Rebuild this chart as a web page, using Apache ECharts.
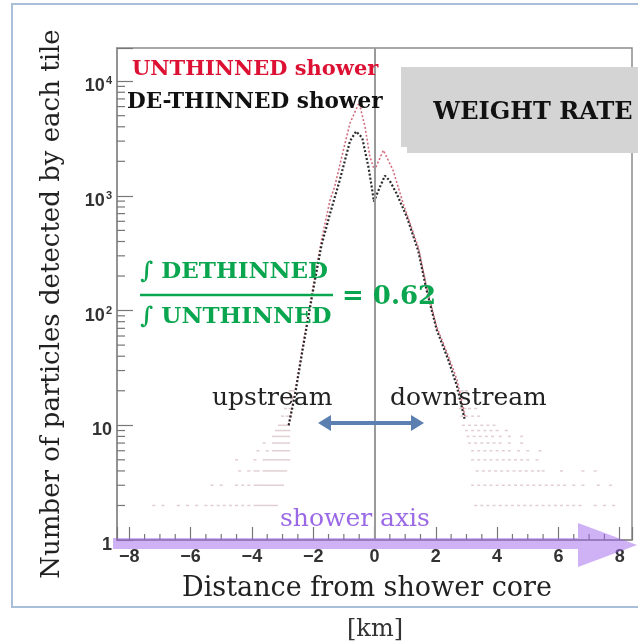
<!DOCTYPE html>
<html><head><meta charset="utf-8">
<script src="https://cdn.jsdelivr.net/npm/echarts@6/dist/echarts.min.js"></script>
<style>html,body{margin:0;padding:0;background:#fff}#c{width:638px;height:643px}</style>
</head><body><div id="c"></div>
<script>
// ---- data (distance from core in km, particle counts) ----
const xUnthinned = [-2.8, -2.6, -2.33, -1.95, -1.73, -1.45, -1.3, -1.0, -0.8, -0.5, -0.31, -0.15, 0.0, 0.29, 0.61, 0.94, 1.43, 1.7, 2.03, 2.41, 2.69, 2.95];
const yUnthinned = [10, 19, 51, 195, 410, 920, 1200, 2600, 4300, 6500, 4000, 2200, 1670, 2500, 1660, 850, 355, 160, 72, 40, 25, 12];
const xDethinned = [-2.8, -2.6, -2.33, -1.95, -1.73, -1.45, -1.13, -0.8, -0.6, -0.4, -0.2, -0.08, -0.02, 0.15, 0.34, 0.5, 0.72, 1.05, 1.43, 1.7, 2.03, 2.41, 2.69, 2.95];
const yDethinned = [10, 18, 48, 180, 370, 700, 1380, 3000, 3650, 3200, 1800, 1150, 890, 1150, 1500, 1350, 1050, 660, 330, 150, 68, 37, 22, 11];
const tileCounts = [2, 3, 4, 5, 6, 7, 8, 9, 10, 12, 14, 17, 20];
const upstreamTileX = [
  [-7.2, -6.9, -6.4, -6.1, -5.8, -5.5, -5.3, -5.1, -4.9, -4.7, -4.5, -4.3, -4.1, -3.9, -3.8, -3.7, -3.6, -3.5, -3.4, -3.3, -3.2],
  [-5.3, -5.0, -4.5, -4.3, -4.1, -3.9, -3.8, -3.7, -3.6, -3.5, -3.4, -3.3, -3.2, -3.1, -3.0],
  [-4.4, -4.1, -3.9, -3.8, -3.6, -3.5, -3.4, -3.3, -3.2, -3.1, -3.0, -2.9],
  [-4.5, -3.9, -3.6, -3.5, -3.4, -3.3, -3.2, -3.1, -3.0, -2.9, -2.8],
  [-3.8, -3.5, -3.3, -3.2, -3.1, -3.0, -2.9, -2.8],
  [-3.6, -3.3, -3.2, -3.1, -3.0, -2.9, -2.8],
  [-3.3, -3.2, -3.1, -3.0, -2.9, -2.8],
  [-3.2, -3.1, -3.0, -2.9, -2.8],
  [-3.1, -3.0, -2.9, -2.8],
  [-3.0, -2.85, -2.75],
  [-2.9, -2.75],
  [-2.85, -2.7],
  [-2.75, -2.65]
];
const downstreamTileX = [
  [3.3, 3.5, 3.7, 3.9, 4.1, 4.3, 4.5, 4.7, 4.9, 5.1, 5.3, 5.5, 5.7, 5.9, 6.1, 6.3, 6.5, 6.7, 7.2, 7.5, 7.8],
  [3.2, 3.4, 3.6, 3.8, 4.0, 4.2, 4.4, 4.6, 4.8, 5.0, 5.2, 5.4, 5.6, 5.8, 6.0, 6.2, 6.5, 6.8, 7.3, 7.7],
  [3.35, 3.55, 3.75, 3.95, 4.15, 4.35, 4.55, 4.75, 4.95, 5.15, 5.35, 5.5, 6.1, 6.8, 7.2],
  [3.2, 3.4, 3.6, 3.8, 4.0, 4.2, 4.4, 4.6, 4.8, 5.0, 5.3],
  [3.2, 3.4, 3.6, 3.8, 4.0, 4.2, 4.4, 4.7, 5.0, 5.4],
  [3.1, 3.3, 3.5, 3.7, 3.9, 4.1, 4.4, 4.8],
  [3.05, 3.25, 3.45, 3.65, 3.85, 4.1, 4.4, 4.8],
  [3.0, 3.2, 3.4, 3.6, 3.8, 4.0, 4.3],
  [2.9, 3.1, 3.3, 3.5, 3.7, 3.9],
  [2.85, 3.0, 3.2, 3.4],
  [2.8, 2.95, 3.1, 3.3],
  [2.75, 2.9, 3.05],
  [2.7, 2.85, 3.0]
];
const xMinorTicks = [-7.5, -7, -6.5, -5.5, -5, -4.5, -3.5, -3, -2.5, -1.5, -1, -0.5, 0.5, 1, 1.5, 2.5, 3, 3.5, 4.5, 5, 5.5, 6.5, 7, 7.5];
const yMinorTicks = [2, 3, 4, 5, 6, 7, 8, 9, 20, 30, 40, 50, 60, 70, 80, 90, 200, 300, 400, 500, 600, 700, 800, 900, 2000, 3000, 4000, 5000, 6000, 7000, 8000, 9000];
const X_MIN = -8.4, X_MAX = 8.4, Y_MIN = 1, Y_MAX = 19450;

// ---- build ----
const tilePoints = [];
tileCounts.forEach((n, i) => {
  upstreamTileX[i].forEach(x => tilePoints.push([x, n]));
  downstreamTileX[i].forEach(x => tilePoints.push([x, n]));
});
const unthinned = xUnthinned.map((x, i) => [x, yUnthinned[i]]);
const dethinned = xDethinned.map((x, i) => [x, yDethinned[i]]);

const SERIF = 'DejaVu Serif';
const GREEN = '#0aa64f';
const chart = echarts.init(document.getElementById('c'), null, {renderer: 'canvas'});
const txt = (text, x, y, font, fill, align, extra) => Object.assign({
  type: 'text', x: x, y: y, silent: true, z: 20,
  style: {text: text, font: font, fill: fill, align: align || 'left', verticalAlign: 'middle'}
}, extra || {});

chart.setOption({
  animation: false,
  backgroundColor: '#fff',
  grid: {left: 117, right: 6, top: 48, bottom: 103, show: true, borderColor: '#8c8c8c', borderWidth: 1.5, backgroundColor: 'transparent'},
  xAxis: {
    type: 'value', min: X_MIN, max: X_MAX, splitNumber: 8,
    axisLine: {show: true, onZero: false, lineStyle: {color: '#8c8c8c', width: 1.5}},
    axisTick: {show: true, inside: true, length: 13, lineStyle: {color: '#777', width: 1.2}},
    splitLine: {show: false},
    axisLabel: {
      margin: 8, fontFamily: 'Liberation Sans', fontWeight: 'bold', fontSize: 18, color: '#333',
      formatter: v => (Math.abs(v - Math.round(v)) > 1e-6 || Math.round(v) % 2 !== 0) ? '' : (v < 0 ? '\u2212' + (-v) : String(v))
    },
    name: 'Distance from shower core', nameLocation: 'middle', nameGap: 35,
    nameTextStyle: {fontFamily: SERIF, fontSize: 27, color: '#222', padding: [0, 15, 0, 0]}
  },
  yAxis: {
    type: 'log', logBase: 10, min: Y_MIN, max: Y_MAX,
    axisLine: {show: true, onZero: false, lineStyle: {color: '#8c8c8c', width: 1.5}},
    axisTick: {show: true, inside: true, length: 16, lineStyle: {color: '#777', width: 1.2}},
    splitLine: {show: false},
    axisLabel: {
      margin: 5, padding: [10, 0, 0, 0], fontFamily: 'Liberation Sans', fontWeight: 'bold', fontSize: 18, color: '#333',
      formatter: v => {
        const e = Math.round(Math.log10(v));
        if (Math.abs(Math.pow(10, e) - v) > 1e-6 * v) return '';
        if (e === 0) return '1';
        if (e === 1) return '10';
        return '{b|10}{s|' + e + '}';
      },
      rich: {
        b: {fontFamily: 'Liberation Sans', fontWeight: 'bold', fontSize: 18, color: '#333'},
        s: {fontFamily: 'Liberation Sans', fontWeight: 'bold', fontSize: 11, color: '#333', padding: [0, 0, 10, 1]}
      }
    },
    name: 'Number of particles detected by each tile', nameLocation: 'middle', nameGap: 52, nameRotate: 90,
    nameTextStyle: {fontFamily: SERIF, fontSize: 26, color: '#222', padding: [0, 20, 0, 0]}
  },
  series: [
    {
      name: 'tiles', type: 'scatter', data: tilePoints, symbol: 'rect', symbolSize: [3, 1.5],
      itemStyle: {color: 'rgba(165,110,120,0.42)'}, silent: true, z: 2,
      markLine: {silent: true, symbol: 'none', label: {show: false}, animation: false,
        lineStyle: {color: '#9a9a9a', width: 2, type: 'solid'}, data: [{xAxis: 0}]}
    },
    {
      name: 'UNTHINNED shower', type: 'line', data: unthinned, showSymbol: false, silent: true, z: 3,
      lineStyle: {color: '#c95566', width: 1.6, type: [2, 2], opacity: 0.85}
    },
    {
      name: 'DE-THINNED shower', type: 'line', data: dethinned, showSymbol: false, silent: true, z: 4,
      lineStyle: {color: '#2a2a2a', width: 2.2, type: [2, 2]}
    },
    {
      name: 'yMinor', type: 'custom', silent: true, z: 5, clip: false,
      data: yMinorTicks.map(v => [X_MIN, v]),
      renderItem: (params, api) => {
        const p = api.coord([api.value(0), api.value(1)]);
        return {type: 'line', shape: {x1: p[0], y1: p[1], x2: p[0] + 8, y2: p[1]}, style: {stroke: '#777', lineWidth: 1.2}};
      }
    },
    {
      name: 'xMinor', type: 'custom', silent: true, z: 5, clip: false,
      data: xMinorTicks.map(v => [v, Y_MIN]),
      renderItem: (params, api) => {
        const p = api.coord([api.value(0), api.value(1)]);
        return {type: 'line', shape: {x1: p[0], y1: p[1], x2: p[0], y2: p[1] - 6}, style: {stroke: '#777', lineWidth: 1.2}};
      }
    }
  ],
  graphic: [
    {type: 'rect', silent: true, z: 0, shape: {x: 12, y: 4, width: 660, height: 603}, style: {fill: 'none', stroke: '#a9bfd9', lineWidth: 2}},
    // purple shower axis arrow
    {type: 'polygon', silent: true, z: 15, shape: {points: [[113, 538], [578, 538], [578, 523], [637, 545], [578, 567], [578, 549], [113, 549]]}, style: {fill: 'rgba(160,100,235,0.5)'}},
    txt('shower axis', 280, 519, '25px "DejaVu Serif"', '#9b69e6'),
    // weight rate box
    {type: 'rect', silent: true, z: 18, shape: {x: 401, y: 67, width: 240, height: 80}, style: {fill: '#d4d4d4'}},
    {type: 'rect', silent: true, z: 18, shape: {x: 407, y: 73, width: 235, height: 80}, style: {fill: '#d4d4d4'}},
    txt('WEIGHT RATE', 533, 113, 'bold 24px "DejaVu Serif"', '#111', 'center'),
    // legend texts
    txt('UNTHINNED shower', 132, 70, 'bold 21px "DejaVu Serif"', '#dd1133'),
    txt('DE-THINNED shower', 127, 102, 'bold 21.6px "DejaVu Serif"', '#111'),
    // formula
    txt('\u222B DETHINNED', 140, 272, 'bold 23px "DejaVu Serif"', GREEN),
    {type: 'line', silent: true, z: 20, shape: {x1: 140, y1: 295, x2: 333, y2: 295}, style: {stroke: GREEN, lineWidth: 2.5}},
    txt('\u222B UNTHINNED', 140, 317, 'bold 23px "DejaVu Serif"', GREEN),
    txt('= 0.62', 342, 297, 'bold 26px "DejaVu Serif"', GREEN),
    // upstream / downstream
    txt('upstream', 212, 398, '25px "DejaVu Serif"', '#222'),
    txt('downstream', 390, 398, '25px "DejaVu Serif"', '#222'),
    {type: 'line', silent: true, z: 20, shape: {x1: 328, y1: 423, x2: 413, y2: 423}, style: {stroke: '#5a7fb0', lineWidth: 4}},
    {type: 'polygon', silent: true, z: 20, shape: {points: [[318, 423], [331, 415], [331, 431]]}, style: {fill: '#5a7fb0'}},
    {type: 'polygon', silent: true, z: 20, shape: {points: [[424, 423], [411, 415], [411, 431]]}, style: {fill: '#5a7fb0'}},
    // unit
    txt('[km]', 375, 630, '24px "DejaVu Serif"', '#333', 'center')
  ]
});
</script></body></html>
